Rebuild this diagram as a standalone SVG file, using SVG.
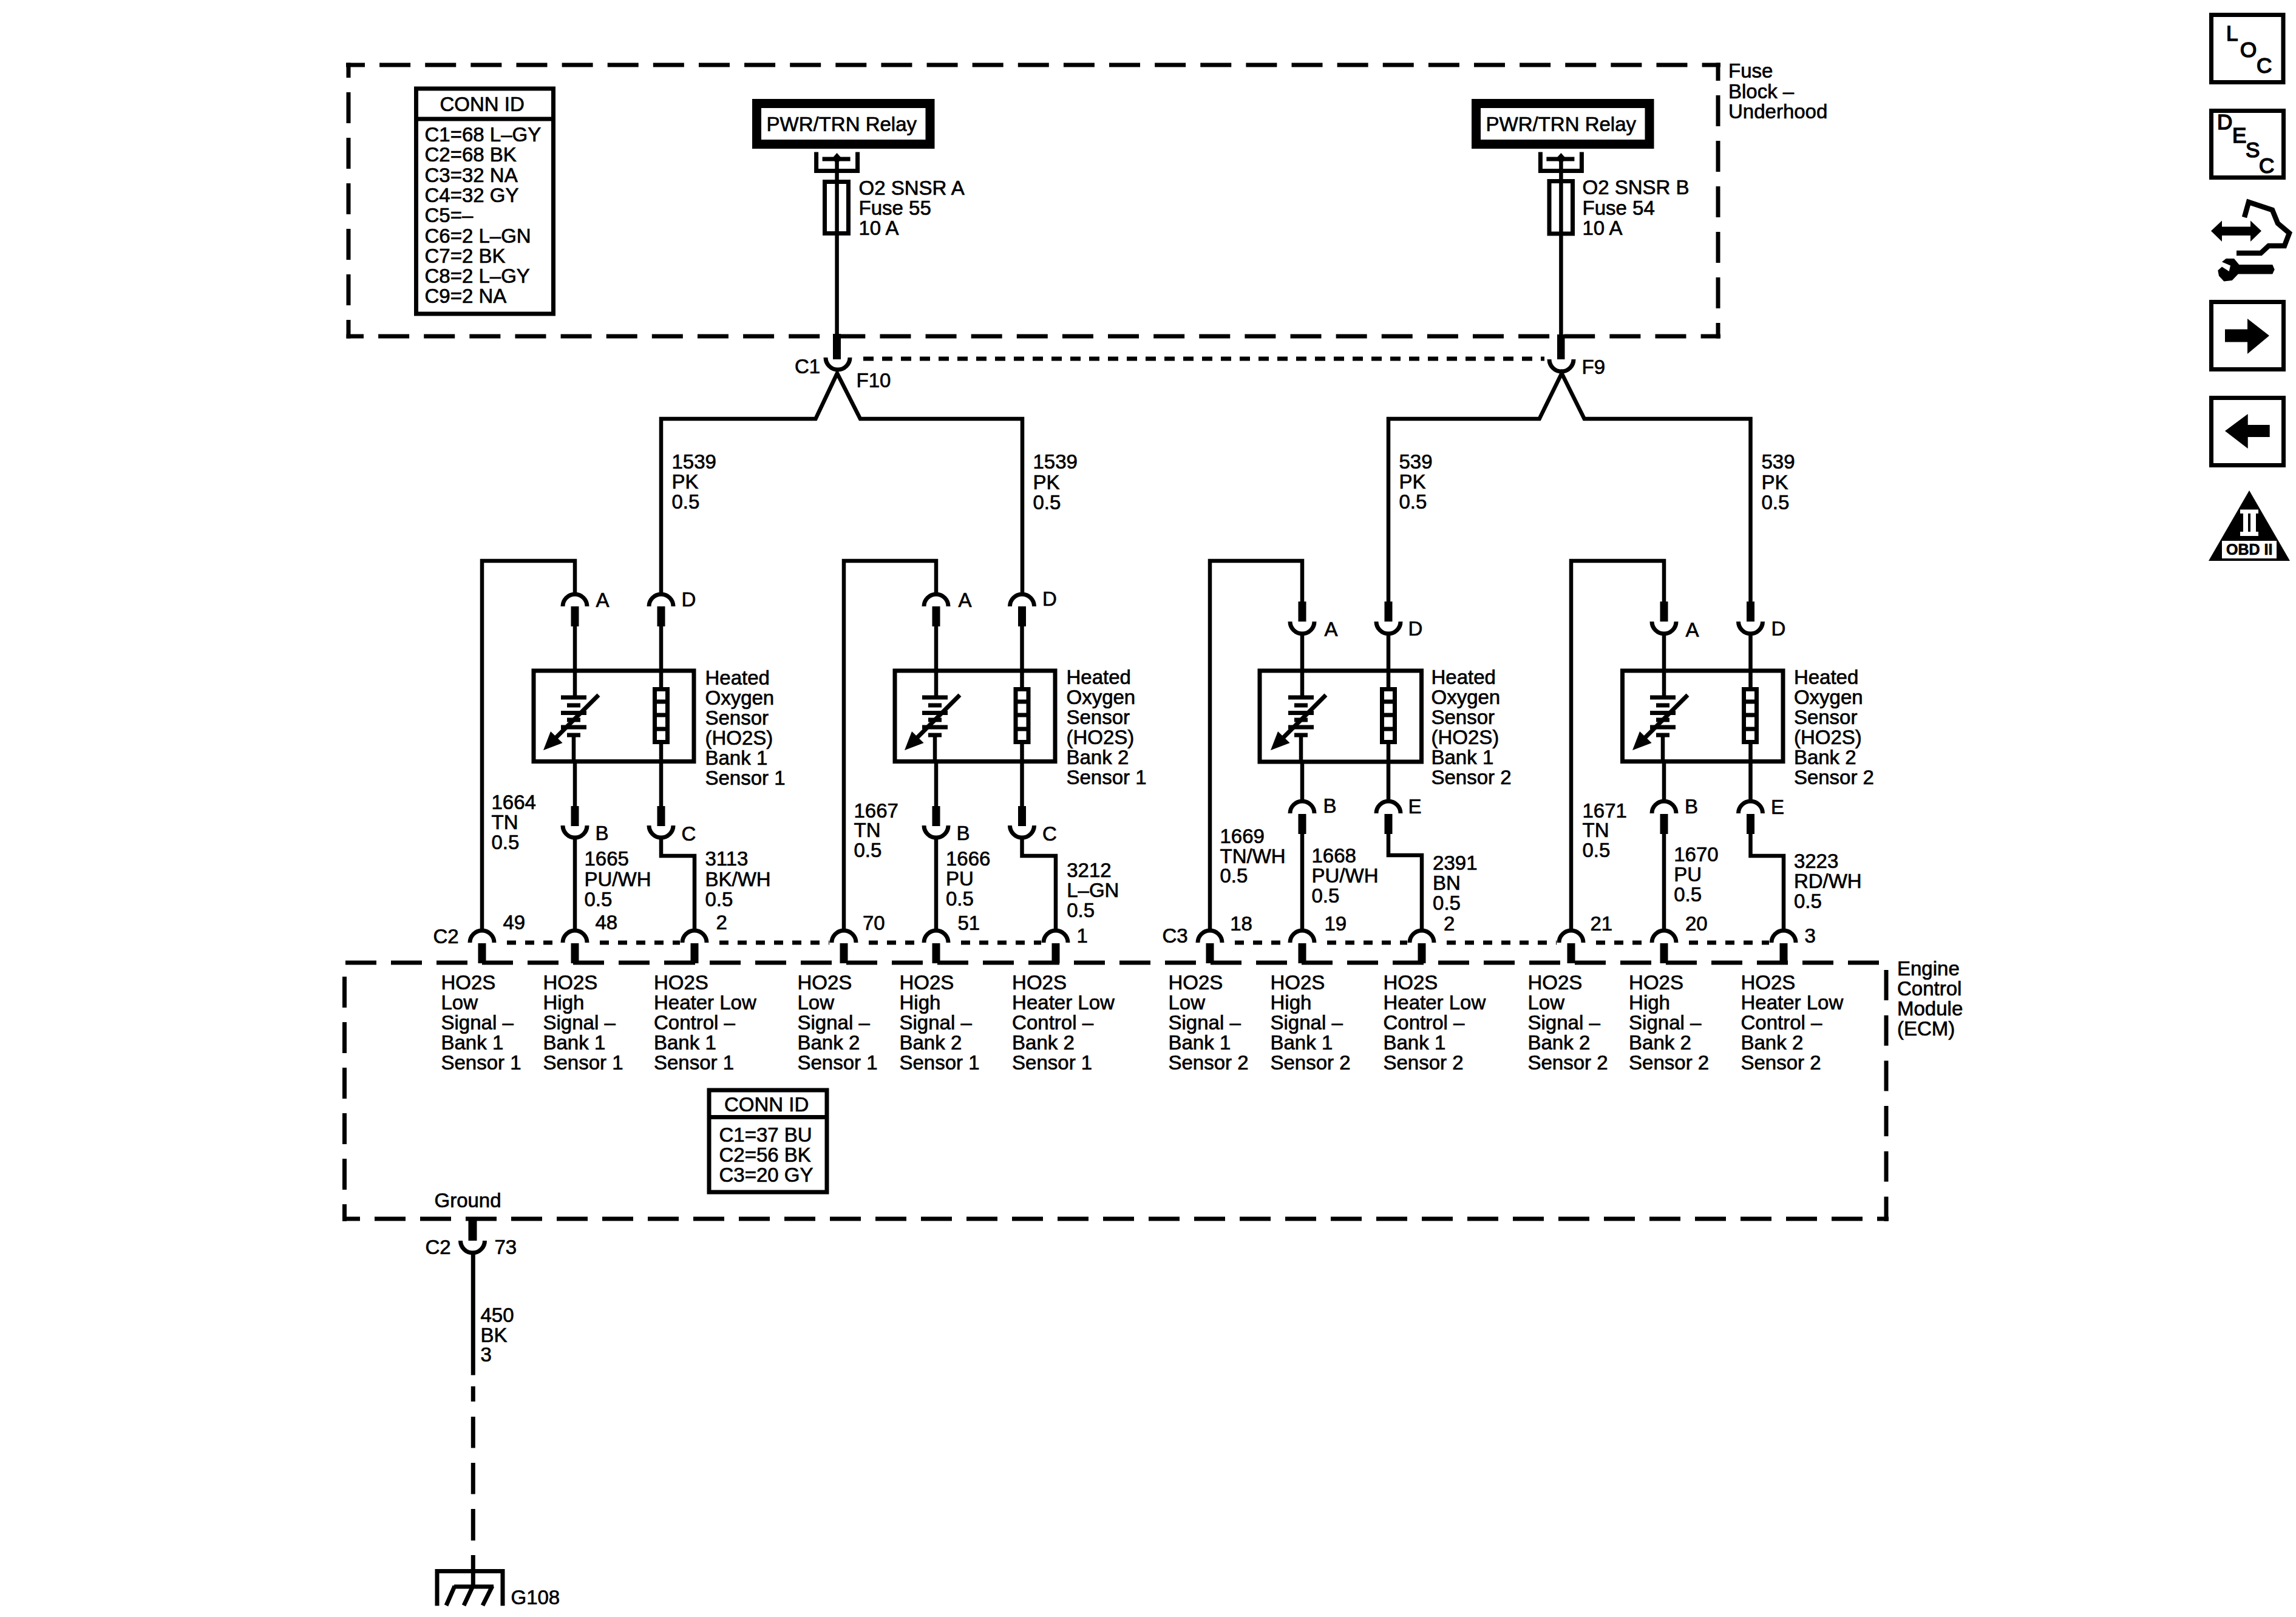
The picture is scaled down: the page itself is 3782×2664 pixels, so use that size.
<svg xmlns="http://www.w3.org/2000/svg" xmlns:xlink="http://www.w3.org/1999/xlink" width="3782" height="2664" viewBox="0 0 3782 2664">
<style>
text{font-family:"Liberation Sans",Arial,sans-serif;font-size:33px;fill:#000;stroke:#000;stroke-width:.7px;transform:translateX(-1.5px)}
.w{fill:none;stroke:#000;stroke-width:6.5}
.b{fill:none;stroke:#000;stroke-width:7}
.bw{fill:#fff;stroke:#000;stroke-width:7}
.k{fill:#000}
.d1{fill:none;stroke:#000;stroke-width:7;stroke-dasharray:51 24.12}
.d2{fill:none;stroke:#000;stroke-width:7;stroke-dasharray:51 24}
.d3{fill:none;stroke:#000;stroke-width:7;stroke-dasharray:17 14}
.d4{fill:none;stroke:#000;stroke-width:7;stroke-dasharray:15 15}
.obd{font-size:25px;font-weight:bold;transform:none}
text.ic{font-size:35px;stroke-width:1.6px;transform:none}
</style>
<defs>
<path id="cu" class="b" d="M-20 0A20 20 0 0 0 20 0"/>
<path id="cn" class="b" d="M-20 0A20 20 0 0 1 20 0"/>
<rect id="pin" class="k" x="-6.500" y="0" width="13" height="33"/>
<g id="batt">
<path class="b" d="M-23 1149H19M-13 1162H9M-23 1174.500H19M-13 1186H9M-23 1198H19M-13 1211H9"/>
<path class="b" d="M39 1145L-35 1219"/>
<path class="k" d="M-52 1236L-40 1205L-20.400 1224Z"/>
</g>
<g id="heat">
<rect class="bw" x="-10.500" y="1135.500" width="21" height="87"/>
<path class="b" d="M-10 1156H10M-10 1178H10M-10 1201H10"/>
</g>
<g id="term">
<path class="b" d="M-34 250.500V281.500H34V250.500"/>
<path class="b" d="M-24 262H22"/>
<path class="k" d="M0 252L8 261L0 270L-8 261Z"/>
</g>
</defs>
<rect width="3782" height="2664" fill="#fff"/>

<g id="connectors">
<path class="w" d="M1378.600 262V552"/>
<path class="w" d="M2571.400 262V552"/>
<rect class="k" x="1372" y="550" width="13" height="42"/>
<rect class="k" x="2565" y="551" width="12.500" height="41"/>
<use href="#cu" x="1380" y="589"/>
<use href="#cu" x="2572" y="592"/>
<path class="d3" d="M1422 591H2544"/>
<path class="w" d="M1089 979V690H1343.500L1379 615L1417 690H1684V979"/>
<path class="w" d="M2287 991V690H2535.700L2572.500 615L2609.700 690H2883.500V991"/>
<path class="w" d="M794 1532V924H947V979"/>
<use href="#cn" x="947" y="999"/><use href="#pin" x="947" y="999"/>
<use href="#cn" x="1089" y="999"/><use href="#pin" x="1089" y="999"/>
<path class="w" d="M947 1031V1149M945 1211V1255M947 1254V1328M1089 1031V1328"/>
<use href="#pin" x="947" y="1328"/><use href="#cu" x="947" y="1360"/>
<use href="#pin" x="1089" y="1328"/><use href="#cu" x="1089" y="1360"/>
<path class="w" d="M947 1380V1532M1089 1380V1410H1144V1532"/>
<path class="w" d="M1390 1532V924H1542V979"/>
<use href="#cn" x="1542" y="999"/><use href="#pin" x="1542" y="999"/>
<use href="#cn" x="1683.500" y="999"/><use href="#pin" x="1683.500" y="999"/>
<path class="w" d="M1542 1031V1149M1540 1211V1255M1542 1254V1328M1683.500 1031V1328"/>
<use href="#pin" x="1542" y="1328"/><use href="#cu" x="1542" y="1360"/>
<use href="#pin" x="1683.500" y="1328"/><use href="#cu" x="1683.500" y="1360"/>
<path class="w" d="M1542 1380V1532M1683.500 1380V1410H1739V1532"/>
<path class="w" d="M1993 1532V924H2145V992"/>
<use href="#pin" x="2145" y="991"/><use href="#cu" x="2145" y="1024"/>
<use href="#pin" x="2287" y="991"/><use href="#cu" x="2287" y="1024"/>
<path class="w" d="M2145 1044V1149M2143 1211V1255M2145 1254V1319M2287 1044V1319"/>
<use href="#cn" x="2145" y="1340"/><use href="#pin" x="2145" y="1341"/>
<use href="#cn" x="2287" y="1340"/><use href="#pin" x="2287" y="1341"/>
<path class="w" d="M2145 1373V1532M2287 1373V1409H2342V1532"/>
<path class="w" d="M2588 1532V924H2741V992"/>
<use href="#pin" x="2741" y="991"/><use href="#cu" x="2741" y="1024"/>
<use href="#pin" x="2883.500" y="991"/><use href="#cu" x="2883.500" y="1024"/>
<path class="w" d="M2741 1044V1149M2739 1211V1255M2741 1254V1319M2883.500 1044V1319"/>
<use href="#cn" x="2741" y="1340"/><use href="#pin" x="2741" y="1341"/>
<use href="#cn" x="2883.500" y="1340"/><use href="#pin" x="2883.500" y="1341"/>
<path class="w" d="M2741 1373V1532M2883.500 1373V1410H2938V1532"/>
<g id="ecm-pins">
<use href="#cn" x="794" y="1553"/><use href="#pin" x="794" y="1554"/>
<use href="#cn" x="947" y="1553"/><use href="#pin" x="947" y="1554"/>
<use href="#cn" x="1144" y="1553"/><use href="#pin" x="1144" y="1554"/>
<use href="#cn" x="1390" y="1553"/><use href="#pin" x="1390" y="1554"/>
<use href="#cn" x="1542" y="1553"/><use href="#pin" x="1542" y="1554"/>
<use href="#cn" x="1739" y="1553"/><use href="#pin" x="1739" y="1554"/>
<use href="#cn" x="1993" y="1553"/><use href="#pin" x="1993" y="1554"/>
<use href="#cn" x="2145" y="1553"/><use href="#pin" x="2145" y="1554"/>
<use href="#cn" x="2342" y="1553"/><use href="#pin" x="2342" y="1554"/>
<use href="#cn" x="2588" y="1553"/><use href="#pin" x="2588" y="1554"/>
<use href="#cn" x="2741" y="1553"/><use href="#pin" x="2741" y="1554"/>
<use href="#cn" x="2938" y="1553"/><use href="#pin" x="2938" y="1554"/>
</g>
<path class="d4" d="M835 1553H923M988 1553H1120M1185 1553H1366M1431 1553H1518M1583 1553H1715M2034 1553H2121M2186 1553H2318M2383 1553H2564M2629 1553H2717M2782 1553H2914"/>
<rect class="k" x="771.500" y="2008" width="14" height="36"/>
<use href="#cu" x="778.500" y="2044"/>
<path class="b" d="M779.300 2063V2265.500M779.300 2284V2309M779.300 2334V2385.500M779.300 2410V2461.500M779.300 2486V2538M779.300 2562V2614"/>
</g>

<g id="fuse-block">
<path class="d1" style="stroke-dashoffset:20" d="M570 107H2834"/>
<path class="d1" style="stroke-dashoffset:22.500" d="M570.500 554H2834"/>
<path class="d2" style="stroke-dashoffset:26.500" d="M574 103.500V557.500"/>
<path class="d2" style="stroke-dashoffset:21.500" d="M2830 103.500V557.500"/>
<text x="2848.500" y="128">Fuse<tspan x="2848.500" dy="33.500">Block –</tspan><tspan x="2848.500" dy="33.500">Underhood</tspan></text>
</g>
<g id="conn-id-1">
<rect class="b" x="685.500" y="146" width="226" height="371"/>
<path class="b" d="M685 196H912"/>
<text x="726" y="183">CONN ID</text>
<text x="701" y="233">C1=68 L–GY<tspan x="701" dy="33.300">C2=68 BK</tspan><tspan x="701" dy="33.300">C3=32 NA</tspan><tspan x="701" dy="33.300">C4=32 GY</tspan><tspan x="701" dy="33.300">C5=–</tspan><tspan x="701" dy="33.300">C6=2 L–GN</tspan><tspan x="701" dy="33.300">C7=2 BK</tspan><tspan x="701" dy="33.300">C8=2 L–GY</tspan><tspan x="701" dy="33.300">C9=2 NA</tspan></text>
</g>
<g id="relay-a">
<rect x="1246.500" y="170.500" width="285.500" height="67" fill="none" stroke="#000" stroke-width="15"/>
<text x="1264" y="215.500">PWR/TRN Relay</text>
<use href="#term" x="1378.600" y="0"/>
</g>
<g id="fuse-55">
<rect class="b" x="1358.500" y="299.500" width="39" height="85"/>
<text x="1416" y="321">O2 SNSR A<tspan x="1416" dy="33">Fuse 55</tspan><tspan x="1416" dy="33">10 A</tspan></text>
</g>
<g id="relay-b">
<rect x="2431.500" y="170.500" width="285.500" height="67" fill="none" stroke="#000" stroke-width="15"/>
<text x="2449" y="215.500">PWR/TRN Relay</text>
<use href="#term" x="2571.400" y="0"/>
</g>
<g id="fuse-54">
<rect class="b" x="2552" y="298.500" width="38.500" height="86.500"/>
<text x="2608" y="320">O2 SNSR B<tspan x="2608" dy="33.500">Fuse 54</tspan><tspan x="2608" dy="33.500">10 A</tspan></text>
</g>
<g id="splice-labels">
<text x="1310.500" y="614.500">C1</text>
<text x="1412" y="637.500">F10</text>
<text x="2607" y="616">F9</text>
<text x="1108" y="772">1539<tspan x="1108" dy="33">PK</tspan><tspan x="1108" dy="33">0.5</tspan></text>
<text x="1703" y="772">1539<tspan x="1703" dy="33.500">PK</tspan><tspan x="1703" dy="33.500">0.5</tspan></text>
<text x="2306" y="772">539<tspan x="2306" dy="33">PK</tspan><tspan x="2306" dy="33">0.5</tspan></text>
<text x="2903" y="772">539<tspan x="2903" dy="33.500">PK</tspan><tspan x="2903" dy="33.500">0.5</tspan></text>
</g>

<g id="sensor-b1s1">
<rect class="b" x="879" y="1105" width="264" height="149.500"/>
<use href="#batt" x="947"/><use href="#heat" x="1089"/>
<text x="1163" y="1128">Heated<tspan x="1163" dy="33">Oxygen</tspan><tspan x="1163" dy="33">Sensor</tspan><tspan x="1163" dy="33">(HO2S)</tspan><tspan x="1163" dy="33">Bank 1</tspan><tspan x="1163" dy="33">Sensor 1</tspan></text>
<text x="983" y="1000">A</text><text x="1124" y="999">D</text><text x="982" y="1384">B</text><text x="1124" y="1385">C</text>
<text x="811" y="1333">1664<tspan x="811" dy="33">TN</tspan><tspan x="811" dy="33">0.5</tspan></text>
<text x="964" y="1426">1665<tspan x="964" dy="33.500">PU/WH</tspan><tspan x="964" dy="33.500">0.5</tspan></text>
<text x="1163" y="1426">3113<tspan x="1163" dy="33.500">BK/WH</tspan><tspan x="1163" dy="33.500">0.5</tspan></text>
<text x="830" y="1531">49</text><text x="982" y="1531">48</text><text x="1181" y="1531">2</text>
</g>
<g id="sensor-b2s1">
<rect class="b" x="1474" y="1105" width="264" height="149.500"/>
<use href="#batt" x="1542"/><use href="#heat" x="1683.500"/>
<text x="1758" y="1127">Heated<tspan x="1758" dy="33">Oxygen</tspan><tspan x="1758" dy="33">Sensor</tspan><tspan x="1758" dy="33">(HO2S)</tspan><tspan x="1758" dy="33">Bank 2</tspan><tspan x="1758" dy="33">Sensor 1</tspan></text>
<text x="1580" y="1000">A</text><text x="1718.500" y="998">D</text><text x="1577" y="1384">B</text><text x="1718.500" y="1385">C</text>
<text x="1408" y="1346.500">1667<tspan x="1408" dy="32.500">TN</tspan><tspan x="1408" dy="32.500">0.5</tspan></text>
<text x="1559.500" y="1425.500">1666<tspan x="1559.500" dy="33">PU</tspan><tspan x="1559.500" dy="33">0.5</tspan></text>
<text x="1758.700" y="1445">3212<tspan x="1758.700" dy="33">L–GN</tspan><tspan x="1758.700" dy="33">0.5</tspan></text>
<text x="1422.500" y="1532">70</text><text x="1579" y="1532">51</text><text x="1775" y="1553">1</text>
</g>
<g id="sensor-b1s2">
<rect class="b" x="2075" y="1105" width="266.500" height="150"/>
<use href="#batt" x="2145"/><use href="#heat" x="2287"/>
<text x="2359" y="1127">Heated<tspan x="2359" dy="33">Oxygen</tspan><tspan x="2359" dy="33">Sensor</tspan><tspan x="2359" dy="33">(HO2S)</tspan><tspan x="2359" dy="33">Bank 1</tspan><tspan x="2359" dy="33">Sensor 2</tspan></text>
<text x="2183" y="1048">A</text><text x="2321" y="1047">D</text><text x="2181" y="1339">B</text><text x="2321" y="1340">E</text>
<text x="2011" y="1389">1669<tspan x="2011" dy="32.500">TN/WH</tspan><tspan x="2011" dy="32.500">0.5</tspan></text>
<text x="2162" y="1421">1668<tspan x="2162" dy="33">PU/WH</tspan><tspan x="2162" dy="33">0.5</tspan></text>
<text x="2361.600" y="1432.500">2391<tspan x="2361.600" dy="33">BN</tspan><tspan x="2361.600" dy="33">0.5</tspan></text>
<text x="2027.700" y="1533">18</text><text x="2183" y="1533">19</text><text x="2379.500" y="1533">2</text>
</g>
<g id="sensor-b2s2">
<rect class="b" x="2672.500" y="1105" width="264.500" height="149.500"/>
<use href="#batt" x="2741"/><use href="#heat" x="2883"/>
<text x="2956.400" y="1127">Heated<tspan x="2956.400" dy="33">Oxygen</tspan><tspan x="2956.400" dy="33">Sensor</tspan><tspan x="2956.400" dy="33">(HO2S)</tspan><tspan x="2956.400" dy="33">Bank 2</tspan><tspan x="2956.400" dy="33">Sensor 2</tspan></text>
<text x="2778" y="1049">A</text><text x="2919" y="1047">D</text><text x="2776.500" y="1340">B</text><text x="2918.500" y="1341">E</text>
<text x="2608" y="1346.500">1671<tspan x="2608" dy="32.500">TN</tspan><tspan x="2608" dy="32.500">0.5</tspan></text>
<text x="2758.700" y="1419">1670<tspan x="2758.700" dy="33">PU</tspan><tspan x="2758.700" dy="33">0.5</tspan></text>
<text x="2956.400" y="1430">3223<tspan x="2956.400" dy="33">RD/WH</tspan><tspan x="2956.400" dy="33">0.5</tspan></text>
<text x="2621" y="1533">21</text><text x="2777.400" y="1533">20</text><text x="2974" y="1553">3</text>
</g>

<g id="ecm">
<path class="d2" d="M569 1586H3095"/>
<path class="d2" style="stroke-dashoffset:22" d="M564 2008H3111"/>
<path class="d2" d="M567.500 1609V2012"/>
<path class="d2" style="stroke-dasharray:50 24.700" d="M3107 1598V2012"/>
<text x="3126.500" y="1607">Engine<tspan x="3126.500" dy="33">Control</tspan><tspan x="3126.500" dy="33">Module</tspan><tspan x="3126.500" dy="33">(ECM)</tspan></text>
<text x="715" y="1553.500">C2</text>
<text x="1916" y="1553">C3</text>
<text x="728" y="1630">HO2S<tspan x="728" dy="33">Low</tspan><tspan x="728" dy="33">Signal –</tspan><tspan x="728" dy="33">Bank 1</tspan><tspan x="728" dy="33">Sensor 1</tspan></text>
<text x="896" y="1630">HO2S<tspan x="896" dy="33">High</tspan><tspan x="896" dy="33">Signal –</tspan><tspan x="896" dy="33">Bank 1</tspan><tspan x="896" dy="33">Sensor 1</tspan></text>
<text x="1078.500" y="1630">HO2S<tspan x="1078.500" dy="33">Heater Low</tspan><tspan x="1078.500" dy="33">Control –</tspan><tspan x="1078.500" dy="33">Bank 1</tspan><tspan x="1078.500" dy="33">Sensor 1</tspan></text>
<text x="1315" y="1630">HO2S<tspan x="1315" dy="33">Low</tspan><tspan x="1315" dy="33">Signal –</tspan><tspan x="1315" dy="33">Bank 2</tspan><tspan x="1315" dy="33">Sensor 1</tspan></text>
<text x="1483" y="1630">HO2S<tspan x="1483" dy="33">High</tspan><tspan x="1483" dy="33">Signal –</tspan><tspan x="1483" dy="33">Bank 2</tspan><tspan x="1483" dy="33">Sensor 1</tspan></text>
<text x="1668.600" y="1630">HO2S<tspan x="1668.600" dy="33">Heater Low</tspan><tspan x="1668.600" dy="33">Control –</tspan><tspan x="1668.600" dy="33">Bank 2</tspan><tspan x="1668.600" dy="33">Sensor 1</tspan></text>
<text x="1926" y="1630">HO2S<tspan x="1926" dy="33">Low</tspan><tspan x="1926" dy="33">Signal –</tspan><tspan x="1926" dy="33">Bank 1</tspan><tspan x="1926" dy="33">Sensor 2</tspan></text>
<text x="2094" y="1630">HO2S<tspan x="2094" dy="33">High</tspan><tspan x="2094" dy="33">Signal –</tspan><tspan x="2094" dy="33">Bank 1</tspan><tspan x="2094" dy="33">Sensor 2</tspan></text>
<text x="2280" y="1630">HO2S<tspan x="2280" dy="33">Heater Low</tspan><tspan x="2280" dy="33">Control –</tspan><tspan x="2280" dy="33">Bank 1</tspan><tspan x="2280" dy="33">Sensor 2</tspan></text>
<text x="2518" y="1630">HO2S<tspan x="2518" dy="33">Low</tspan><tspan x="2518" dy="33">Signal –</tspan><tspan x="2518" dy="33">Bank 2</tspan><tspan x="2518" dy="33">Sensor 2</tspan></text>
<text x="2684.600" y="1630">HO2S<tspan x="2684.600" dy="33">High</tspan><tspan x="2684.600" dy="33">Signal –</tspan><tspan x="2684.600" dy="33">Bank 2</tspan><tspan x="2684.600" dy="33">Sensor 2</tspan></text>
<text x="2869" y="1630">HO2S<tspan x="2869" dy="33">Heater Low</tspan><tspan x="2869" dy="33">Control –</tspan><tspan x="2869" dy="33">Bank 2</tspan><tspan x="2869" dy="33">Sensor 2</tspan></text>
<text x="717" y="1988.500">Ground</text>
</g>
<g id="conn-id-2">
<rect class="b" x="1168" y="1796" width="194" height="168"/>
<path class="b" d="M1168 1840.500H1362"/>
<text x="1194.500" y="1831">CONN ID</text>
<text x="1186" y="1881">C1=37 BU<tspan x="1186" dy="33">C2=56 BK</tspan><tspan x="1186" dy="33">C3=20 GY</tspan></text>
</g>
<g id="ground-g108">
<text x="702" y="2065.500">C2</text>
<text x="816" y="2065.500">73</text>
<text x="793" y="2178">450<tspan x="793" dy="32.500">BK</tspan><tspan x="793" dy="32.500">3</tspan></text>
<path class="b" d="M720 2645.500V2588.500H828V2645.500"/>
<path class="b" d="M748 2614H813M749 2613L735 2645M779 2613L764 2645M811 2613L795 2645"/>
<text x="843" y="2642.500">G108</text>
</g>

<g id="icon-loc">
<rect class="b" x="3642.500" y="24.500" width="118.500" height="111"/>
<text class="ic" x="3667" y="66.500">L</text><text class="ic" x="3690" y="94">O</text><text class="ic" x="3717" y="120">C</text>
</g>
<g id="icon-desc">
<rect class="b" x="3642.500" y="182.500" width="119" height="110"/>
<text class="ic" x="3652" y="213">D</text><text class="ic" x="3677" y="235">E</text><text class="ic" x="3699" y="259">S</text><text class="ic" x="3721" y="285">C</text>
</g>
<g id="icon-service">
<path class="k" d="M3642 380.500L3660 363.500V373.500H3707V363.500L3725 380.500L3707 398V388H3660V398Z"/>
<path fill="none" stroke="#000" stroke-width="8.500" d="M3697 358L3704 333L3743 346L3752 368L3771 384L3763 405L3737 405L3724 417L3684 417"/>
<path class="k" d="M3743.300 436L3746.700 444L3743.300 451.500L3686.700 451.500L3676.700 462L3663.300 463.600L3655 454.500L3653.300 445.500L3660 439.400L3671.700 447L3674 437.600L3660 431.500L3666.700 426L3680 426L3688.300 436Z"/>
</g>
<g id="icon-next">
<rect class="b" x="3642.500" y="497.500" width="119" height="111"/>
<path class="k" d="M3665 542.500H3702V525L3738 553L3702 583V563.500H3665Z"/>
</g>
<g id="icon-prev">
<rect class="b" x="3642.500" y="655.500" width="119" height="111"/>
<path class="k" d="M3665 710L3702.700 682V700H3738.700V720H3702.700V739Z"/>
</g>
<g id="icon-obd">
<path class="k" d="M3705 808L3772 924H3638Z"/>
<path fill="#fff" d="M3690 839.500H3720V846H3716V876H3720V883H3690V876H3695V846H3690ZM3703 846V876H3707V846Z" fill-rule="evenodd"/>
<rect x="3660" y="891" width="90" height="29" fill="#fff"/>
<text class="obd" x="3667" y="914">OBD II</text>
</g>
</svg>
